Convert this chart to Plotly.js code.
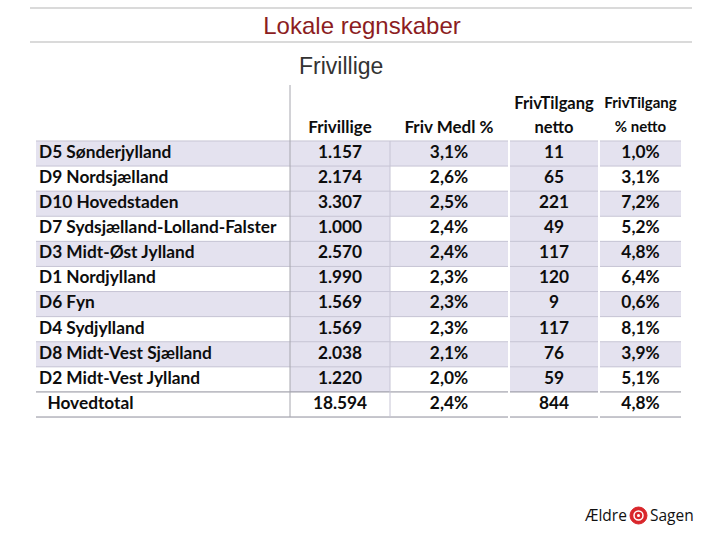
<!DOCTYPE html>
<html>
<head>
<meta charset="utf-8">
<script src="https://cdn.plot.ly/plotly-3.0.1.min.js"></script>
<style>html,body{margin:0;padding:0;background:#fff;}#chart{width:720px;height:540px;}</style>
</head>
<body>
<div id="chart"></div>
<script>
// ---------- data ----------
const regions = ["D5 Sønderjylland","D9 Nordsjælland","D10 Hovedstaden","D7 Sydsjælland-Lolland-Falster","D3 Midt-Øst Jylland","D1 Nordjylland","D6 Fyn","D4 Sydjylland","D8 Midt-Vest Sjælland","D2 Midt-Vest Jylland"];
const totalLabel = "Hovedtotal";
const frivillige = [1157,2174,3307,1000,2570,1990,1569,1569,2038,1220];
const frivTotal = 18594;
const medlPct = [3.1,2.6,2.5,2.4,2.4,2.3,2.3,2.3,2.1,2.0];
const medlTotal = 2.4;
const netto = [11,65,221,49,117,120,9,117,76,59];
const nettoTotal = 844;
const nettoPct = [1.0,3.1,7.2,5.2,4.8,6.4,0.6,8.1,3.9,5.1];
const nettoPctTotal = 4.8;
const headerLine1 = ["", "", "", "FrivTilgang", "FrivTilgang"];
const headerLine2 = ["", "Frivillige", "Friv Medl %", "netto", "% netto"];

// ---------- layout config (positions / styles) ----------
const colLeft  = [36, 290, 390, 510, 600];
const colRight = [290, 390, 508, 598, 681];
const LAV = "#e4e2ef", WHT = "#ffffff";
const fam = "Lato, 'Open Sans', sans-serif";
const nRows = regions.length + 1;
const rows = Array.from({length: nRows}, (_, i) => i);

function thou(n){ return String(n).replace(/\B(?=(\d{3})+(?!\d))/g, "."); }
function pct(v){ return v.toFixed(1).replace(".", ",") + "%"; }

const colTexts = [
  regions.concat(["\u00a0\u00a0" + totalLabel]),
  frivillige.map(thou).concat([thou(frivTotal)]),
  medlPct.map(pct).concat([pct(medlTotal)]),
  netto.map(String).concat([String(nettoTotal)]),
  nettoPct.map(pct).concat([pct(nettoPctTotal)])
];
const alt = rows.map(i => (i < regions.length && i % 2 === 0) ? LAV : WHT);
const full = rows.map(i => i < regions.length ? LAV : WHT);
const colFills = [alt, full, alt, full, alt];

const traces = [];
// cell fills
colFills.forEach((fill, c) => {
  traces.push({
    type: "bar", orientation: "h",
    y: rows, x: rows.map(() => colRight[c] - colLeft[c]), base: colLeft[c],
    width: 1, marker: {color: fill, line: {width: 0}},
    hoverinfo: "skip", showlegend: false
  });
});
// row separator lines
function hLines(yVals, color, width){
  const xs = [], ys = [];
  yVals.forEach(y => {
    [[36, 508], [510, 598], [600, 681]].forEach(seg => {
      xs.push(seg[0], seg[1], null); ys.push(y, y, null);
    });
  });
  traces.push({type: "scatter", mode: "lines", x: xs, y: ys, line: {color: color, width: width}, hoverinfo: "skip", showlegend: false});
}
hLines(rows.slice(0, regions.length).map(i => i - 0.5), "#c6c4d4", 1);
hLines([regions.length - 0.5, regions.length + 0.5], "#8e8e9a", 1);
// vertical lines
traces.push({type: "scatter", mode: "lines", x: [290, 290], y: [-2.73, nRows - 0.5], line: {color: "#a6a6ae", width: 1}, hoverinfo: "skip", showlegend: false});
traces.push({type: "scatter", mode: "lines", x: [390, 390], y: [-0.5, nRows - 0.5], line: {color: "#c6c4d4", width: 1}, hoverinfo: "skip", showlegend: false});

// cell texts
colTexts.forEach((col, c) => {
  const isName = c === 0;
  traces.push({
    type: "scatter", mode: "text",
    x: rows.map(() => isName ? colLeft[c] + 3 : (colLeft[c] + colRight[c]) / 2),
    y: rows,
    text: col,
    textposition: isName ? "middle right" : "middle center",
    textfont: {family: fam, size: 17.3, color: "#0d0d0d", weight: 700},
    hoverinfo: "skip", showlegend: false, cliponaxis: false
  });
});
// header texts
const hdrSizes = [17, 17, 17, 16.5, 15];
[headerLine1, headerLine2].forEach((line, li) => {
  line.forEach((t, c) => {
    if (!t) return;
    traces.push({
      type: "scatter", mode: "text",
      x: [(colLeft[c] + colRight[c]) / 2], y: [li === 0 ? -1.95 : -1],
      text: [t], textposition: "middle center",
      textfont: {family: fam, size: hdrSizes[c], color: "#0d0d0d", weight: 700},
      hoverinfo: "skip", showlegend: false, cliponaxis: false
    });
  });
});

const layout = {
  width: 720, height: 540,
  margin: {l: 0, r: 0, t: 0, b: 0},
  paper_bgcolor: "#fff", plot_bgcolor: "#fff",
  showlegend: false, barmode: "overlay", bargap: 0,
  xaxis: {range: [0, 720], visible: false, fixedrange: true},
  yaxis: {range: [15.40, -6.117], visible: false, fixedrange: true},
  title: {text: "Lokale regnskaber", x: 362/720, xanchor: "center", y: 1 - 26/540, yanchor: "middle",
          font: {family: "'Liberation Sans', Arial, sans-serif", size: 24, color: "#8c1d22"}},
  shapes: [
    {type: "line", xref: "paper", yref: "paper", x0: 30/720, x1: 692/720, y0: 1 - 8/540, y1: 1 - 8/540, line: {color: "#b5b5b5", width: 1}},
    {type: "line", xref: "paper", yref: "paper", x0: 30/720, x1: 692/720, y0: 1 - 42/540, y1: 1 - 42/540, line: {color: "#b5b5b5", width: 1}},
    {type: "circle", xref: "paper", yref: "paper", x0: 630/720, x1: 647/720, y0: 1 - 524/540, y1: 1 - 507/540, fillcolor: "#d9262b", line: {color: "#d9262b", width: 1}},
    {type: "circle", xref: "paper", yref: "paper", x0: 634/720, x1: 643/720, y0: 1 - 520/540, y1: 1 - 511/540, fillcolor: "rgba(0,0,0,0)", line: {color: "#ffffff", width: 1.5}},
    {type: "circle", xref: "paper", yref: "paper", x0: 637/720, x1: 640/720, y0: 1 - 517/540, y1: 1 - 514/540, fillcolor: "#ffffff", line: {color: "#ffffff", width: 0}}
  ],
  annotations: [
    {text: "Frivillige", xref: "paper", yref: "paper", x: 341/720, y: 1 - 66/540, xanchor: "center", yanchor: "middle", showarrow: false,
     font: {family: "'Liberation Sans', Arial, sans-serif", size: 23, color: "#333"}},
    {text: "Ældre", xref: "paper", yref: "paper", x: 629/720, y: 1 - 515/540, xanchor: "right", yanchor: "middle", showarrow: false,
     font: {family: "'Open Sans', sans-serif", size: 15.5, color: "#111"}},
    {text: "Sagen", xref: "paper", yref: "paper", x: 648/720, y: 1 - 515/540, xanchor: "left", yanchor: "middle", showarrow: false,
     font: {family: "'Open Sans', sans-serif", size: 15.5, color: "#111"}}
  ]
};

Plotly.newPlot("chart", traces, layout, {displayModeBar: false, staticPlot: true});
</script>
</body>
</html>
